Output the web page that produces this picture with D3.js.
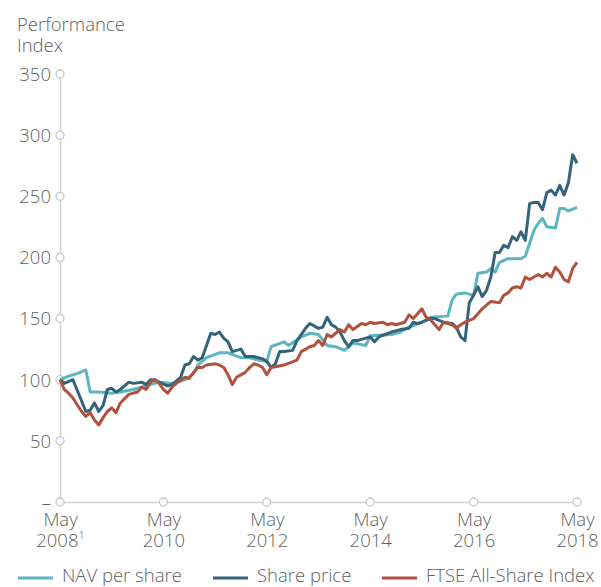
<!DOCTYPE html>
<meta charset="utf-8">
<style>
body { margin: 0; background: #fff; }
svg text { font-family: "Open Sans", sans-serif; font-weight: 300; fill: #5f5f5f; font-size: 18.5px; }
.axis path { stroke: #d2d2d2; stroke-width: 1.5px; }
.line { fill: none; stroke-width: 3px; stroke-linejoin: round; }
</style>
<svg width="601" height="587"></svg>
<script src="https://d3js.org/d3.v7.min.js"></script>
<script>

// months counted from May 2008
const navMonths = [0,2,4,6,7,9,12,14,17,20,23,26,29,31,32,34,37,39,42,44,46,48,49,52,53,56,58,60,62,64,66,68,71,72,77,79,81,84,86,90,91,92,94,96,97,99,100,101,102,104,107,108,110,111,112,113,115,116,117,118,120];
const navValues = [100,103,105,108,90,90,89,90,92,95,98,97,100,105,112,118,122,122,118,118,116,115,127,131,128,135,138,137,128,127,124,130,128,136,137,139,143,147,151,152,165,170,171,169,187,188,191,188,196,199,199,201,222,228,232,225,224,240,240,238,241];

const shareMonths = [0,1,3,6,7,8,9,10,11,12,13,14,16,17,19,20,21,22,23,25,26,28,29,30,31,32,33,35,36,37,38,39,40,41,42,43,45,46,47,48,49,50,51,52,54,55,57,58,60,61,62,63,64,65,66,67,68,69,71,72,73,74,77,79,81,82,83,84,86,87,89,91,92,93,94,95,96,97,98,99,100,101,102,103,104,105,106,107,108,109,110,111,112,113,114,115,116,117,118,119,120];
const shareValues = [100,97,100,74,75,81,74,79,92,93,90,92,98,97,98,96,100,100,98,95,96,102,112,113,119,116,118,138,137,139,134,131,123,124,125,119,119,118,117,115,110,113,123,123,124,132,142,146,142,143,151,145,143,139,132,127,132,132,134,135,131,135,139,141,142,147,146,147,150,150,147,146,143,135,132,163,169,176,168,173,184,204,204,210,208,217,214,221,214,244,245,245,239,253,255,251,259,251,261,284,277];

const ftseMonths = [0,1,2,3,5,6,7,8,9,10,11,12,13,14,16,17,18,19,20,21,22,23,24,25,26,27,29,30,31,32,33,34,36,37,38,39,40,41,42,43,44,45,46,47,48,49,52,55,56,58,59,60,61,62,63,64,65,66,67,68,70,71,72,73,75,76,77,78,80,81,82,83,84,85,86,87,88,89,91,92,93,94,96,97,98,99,100,102,103,104,105,106,107,108,109,110,111,112,113,114,115,116,117,118,119,120];
const ftseValues = [100,92,89,85,74,70,73,67,63,69,74,77,73,81,88,89,90,94,92,98,100,97,92,89,94,97,102,101,106,110,110,112,113,112,110,104,96,102,104,106,110,113,112,110,104,110,112,116,123,127,128,132,128,137,135,138,141,139,145,141,146,145,147,146,147,145,146,145,147,153,150,154,158,151,149,145,141,147,145,142,145,147,150,154,158,161,164,163,169,171,175,176,175,184,182,184,186,184,187,184,192,188,182,180,191,196];

const tickYears = ["2008", "2010", "2012", "2014", "2016", "2018"];
const yTicks = [0, 50, 100, 150, 200, 250, 300, 350];

const series = [
  {name: "NAV per share", color: "#5cb6c1", months: navMonths, values: navValues},
  {name: "Share price", color: "#33647a", months: shareMonths, values: shareValues},
  {name: "FTSE All-Share Index", color: "#b0523d", months: ftseMonths, values: ftseValues}
];

const svg = d3.select("svg");

const xScale = d3.scaleLinear().domain([0, 120]).range([60, 577]);
const yScale = d3.scaleLinear().domain([0, 350]).range([502, 74]);

svg.append("text").attr("x", 17).attr("y", 31).text("Performance");
svg.append("text").attr("x", 17).attr("y", 52).text("Index");

const yaxis = svg.append("g")
    .attr("class", "axis")
    .attr("transform", "translate(60,0)")
    .call(d3.axisLeft(yScale).tickValues(yTicks).tickSize(0).tickSizeOuter(0).tickPadding(9)
      .tickFormat(d => d === 0 ? "–" : d));
yaxis.selectAll("text").style("font-size", null).attr("dy", "0.34em");

const xaxis = svg.append("g")
    .attr("class", "axis")
    .attr("transform", "translate(0,502)")
    .call(d3.axisBottom(xScale).tickValues(tickYears.map((d, i) => i * 24)).tickSize(0).tickSizeOuter(0).tickFormat(""));
xaxis.selectAll(".tick").each(function(d, i) {
  const t = d3.select(this).append("text").attr("text-anchor", "middle");
  t.append("tspan").attr("x", 0).attr("y", 24).text("May");
  const yr = t.append("tspan").attr("x", 0).attr("y", 45).text(tickYears[i]);
  if (i === 0) yr.append("tspan").style("font-size", "11px").attr("dy", "-0.75em").text("1");
});

// open circles on both axes
svg.selectAll("circle.yt").data(yTicks.filter(d => d > 0)).join("circle")
    .attr("cx", 60).attr("cy", d => yScale(d)).attr("r", 4)
    .attr("fill", "#fff").attr("stroke", "#c8c8c8").attr("stroke-width", 1.3);
svg.selectAll("circle.xt").data(tickYears.map((d, i) => i * 24)).join("circle")
    .attr("cx", d => xScale(d)).attr("cy", 502).attr("r", 4)
    .attr("fill", "#fff").attr("stroke", "#c8c8c8").attr("stroke-width", 1.3);

const line = d3.line()
    .x(d => xScale(d[0]))
    .y(d => yScale(d[1]));

series.forEach(s => {
  svg.append("path")
      .datum(s.months.map((m, i) => [m, s.values[i]]))
      .attr("class", "line")
      .attr("stroke", s.color)
      .attr("d", line);
});

const legendX = [18, 213, 382];
series.forEach((s, i) => {
  svg.append("line").attr("x1", legendX[i]).attr("x2", legendX[i] + 35)
      .attr("y1", 578).attr("y2", 578)
      .attr("stroke", s.color).attr("stroke-width", 3);
  svg.append("text").attr("x", legendX[i] + 44).attr("y", 582).text(s.name);
});

</script>
